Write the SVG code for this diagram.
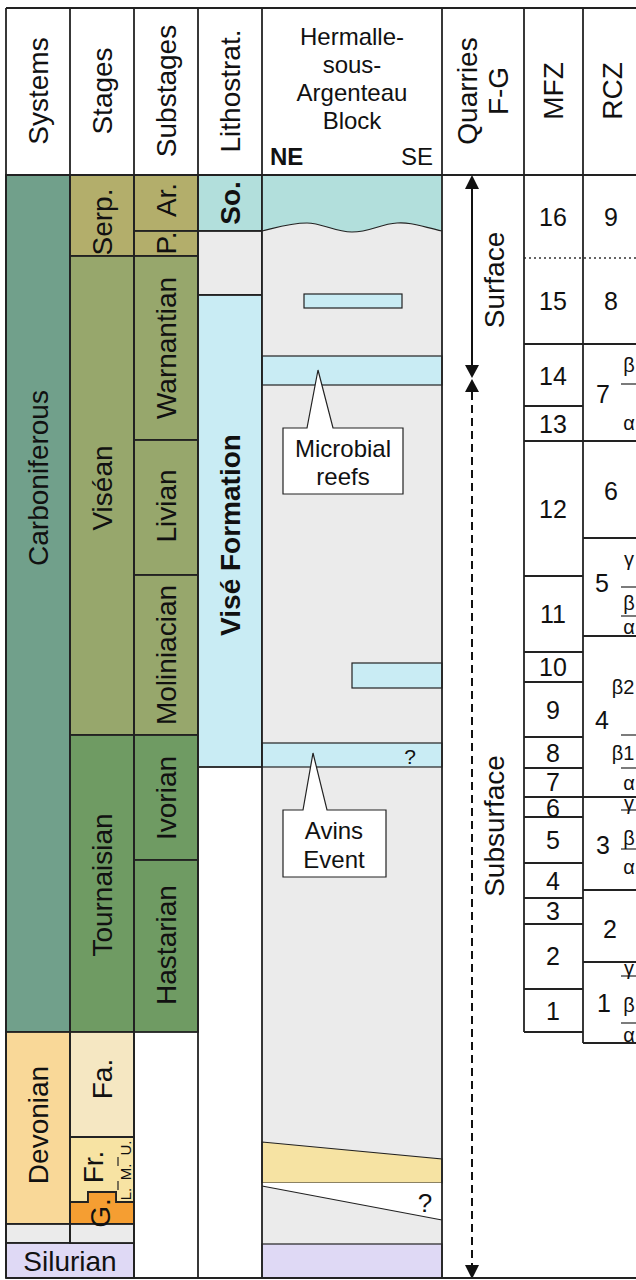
<svg xmlns="http://www.w3.org/2000/svg" width="636" height="1280" viewBox="0 0 636 1280">
<defs>
<style>
text{font-family:"Liberation Sans",Arial,sans-serif;fill:#111}
.c{stroke:#222;stroke-width:1.8}
.h{font-size:28px;text-anchor:middle;dominant-baseline:central}
.l{font-size:28px;text-anchor:middle;dominant-baseline:central}
.b{font-weight:bold}
.n{font-size:25px;text-anchor:middle;dominant-baseline:central}
.g{font-size:20px;text-anchor:middle;dominant-baseline:central}
.s{font-size:15px;text-anchor:middle;dominant-baseline:central}
.ln{stroke:#222;stroke-width:1.8;fill:none}
.tl{stroke:#222;stroke-width:1.2}
</style>
</defs>
<rect width="636" height="1280" fill="#fff"/>

<g id="header">
<text class="h" transform="translate(38,91) rotate(-90)">Systems</text>
<text class="h" transform="translate(102,91) rotate(-90)">Stages</text>
<text class="h" transform="translate(166,91) rotate(-90)">Substages</text>
<text class="h" transform="translate(230,91) rotate(-90)">Lithostrat.</text>
<text style="font-size:24px;text-anchor:middle"><tspan x="352" y="45">Hermalle-</tspan><tspan x="352" y="73">sous-</tspan><tspan x="352" y="101">Argenteau</tspan><tspan x="352" y="129">Block</tspan></text>
<text class="b" x="270" y="165" style="font-size:24px">NE</text>
<text x="433" y="165" style="font-size:24px;text-anchor:end">SE</text>
<text class="h" transform="translate(483,91) rotate(-90)"><tspan x="0" y="-16">Quarries</tspan><tspan x="0" y="15">F-G</tspan></text>
<text class="h" transform="translate(553,91) rotate(-90)">MFZ</text>
<text class="h" transform="translate(612,91) rotate(-90)">RCZ</text>
</g>

<g id="systems">
<rect class="c" x="6" y="175" width="64" height="857" fill="#71a08b"/>
<rect class="c" x="6" y="1032" width="64" height="192" fill="#f9d898"/>
<rect class="c" x="6" y="1224" width="64" height="19" fill="#ebebeb"/>
<rect class="c" x="6" y="1243" width="128" height="35" fill="#dfd9f5"/>
<text class="l" transform="translate(38,478) rotate(-90)">Carboniferous</text>
<text class="l" transform="translate(38,1125) rotate(-90)">Devonian</text>
<text x="70" y="1271" style="font-size:28px;text-anchor:middle">Silurian</text>
</g>

<g id="stages">
<rect class="c" x="70" y="175" width="64" height="81" fill="#b3ae6b"/>
<rect class="c" x="70" y="256" width="64" height="479" fill="#97a76c"/>
<rect class="c" x="70" y="735" width="64" height="297" fill="#6f9b63"/>
<rect class="c" x="70" y="1032" width="64" height="105" fill="#f5e7c2"/>
<polygon class="c" points="70,1137 134,1137 134,1202 116,1202 116,1192 88,1192 88,1202 70,1202" fill="#f7e3a3"/>
<polygon class="c" points="70,1202 88,1202 88,1192 116,1192 116,1202 134,1202 134,1224 70,1224" fill="#f59e32"/>
<rect class="c" x="70" y="1224" width="64" height="19" fill="#ebebeb"/>
<text class="l" transform="translate(102,222) rotate(-90)">Serp.</text>
<text class="l" transform="translate(102,488) rotate(-90)">Viséan</text>
<text class="l" transform="translate(102,885) rotate(-90)">Tournaisian</text>
<text class="l" transform="translate(102,1079) rotate(-90)">Fa.</text>
<text class="l" transform="translate(93,1167) rotate(-90)">Fr.</text>
<text class="l" transform="translate(100,1213) rotate(-90)">G.</text>
<text class="s" transform="translate(125,1148) rotate(-90)">U.</text>
<text class="s" transform="translate(125,1172) rotate(-90)">M.</text>
<text class="s" transform="translate(125,1194) rotate(-90)">L.</text>
<line class="tl" x1="118" y1="1157" x2="118" y2="1166"/>
<line class="tl" x1="118" y1="1181" x2="118" y2="1190"/>
</g>

<g id="substages">
<rect class="c" x="134" y="175" width="64" height="56" fill="#b3ae6b"/>
<rect class="c" x="134" y="231" width="64" height="25" fill="#b3ae6b"/>
<rect class="c" x="134" y="256" width="64" height="184" fill="#97a76c"/>
<rect class="c" x="134" y="440" width="64" height="135" fill="#97a76c"/>
<rect class="c" x="134" y="575" width="64" height="160" fill="#97a76c"/>
<rect class="c" x="134" y="735" width="64" height="125" fill="#6f9b63"/>
<rect class="c" x="134" y="860" width="64" height="172" fill="#6f9b63"/>
<text class="l" transform="translate(166,200) rotate(-90)">Ar.</text>
<text class="l" transform="translate(166,243) rotate(-90)">P.</text>
<text class="l" transform="translate(166,348) rotate(-90)">Warnantian</text>
<text class="l" transform="translate(166,506) rotate(-90)">Livian</text>
<text class="l" transform="translate(166,655) rotate(-90)">Moliniacian</text>
<text class="l" transform="translate(166,798) rotate(-90)">Ivorian</text>
<text class="l" transform="translate(166,945) rotate(-90)">Hastarian</text>
</g>

<g id="lithostrat">
<rect class="c" x="198" y="175" width="64" height="56" fill="#b2dfdc"/>
<rect class="c" x="198" y="231" width="64" height="64" fill="#ebebeb"/>
<rect class="c" x="198" y="295" width="64" height="472" fill="#c9ecf4"/>
<text class="l b" transform="translate(230,203) rotate(-90)">So.</text>
<text class="l b" transform="translate(230,535) rotate(-90)">Visé Formation</text>
</g>

<g id="hermalle">
<rect x="262" y="175" width="180" height="1069" fill="#ebebeb"/>
<path d="M262,175 H442 V231 C420,226 410,222 397,223 C380,224 370,232 352,232 C335,232 322,223 307,223 C290,223 275,228 262,231 Z" fill="#b2dfdc"/>
<path class="tl" d="M262,231 C275,228 290,223 307,223 C322,223 335,232 352,232 C370,232 380,224 397,223 C410,222 420,226 442,231" fill="none"/>
<rect class="tl" x="304" y="294" width="98" height="14" fill="#c9ecf4"/>
<rect class="tl" x="262" y="356" width="180" height="29" fill="#c9ecf4"/>
<rect class="tl" x="352" y="663" width="90" height="25" fill="#c9ecf4"/>
<rect class="tl" x="262" y="743" width="180" height="24" fill="#c9ecf4"/>
<text x="410" y="764" style="font-size:21px;text-anchor:middle">?</text>
<polygon class="tl" points="262,1142 442,1159 442,1183 262,1183" fill="#f6e3a3"/>
<polygon points="262,1183 442,1183 442,1220 262,1186" fill="#fff"/>
<line class="tl" x1="262" y1="1186" x2="442" y2="1220"/>
<text x="425" y="1212" style="font-size:26px;text-anchor:middle">?</text>
<rect class="tl" x="262" y="1244" width="180" height="34" fill="#dfd9f5"/>
</g>

<g id="callout-microbial">
<polygon class="tl" points="283,428 307,428 318,370 333,428 403,428 403,494 283,494" fill="#fff"/>
<text style="font-size:24px;text-anchor:middle"><tspan x="343" y="457">Microbial</tspan><tspan x="343" y="485">reefs</tspan></text>
</g>

<g id="callout-avins">
<polygon class="tl" points="283,810 303,810 313,753 327,810 386,810 386,877 283,877" fill="#fff"/>
<text style="font-size:24px;text-anchor:middle"><tspan x="334" y="839">Avins</tspan><tspan x="334" y="868">Event</tspan></text>
</g>

<g id="quarries">
<line x1="472" y1="188" x2="472" y2="366" stroke="#111" stroke-width="2"/>
<polygon points="472,175 465,189 479,189" fill="#111"/>
<polygon points="472,378 465,365 479,365" fill="#111"/>
<polygon points="472,379 465,392 479,392" fill="#111"/>
<line x1="472" y1="392" x2="472" y2="1266" stroke="#111" stroke-width="2" stroke-dasharray="8,5"/>
<polygon points="472,1279 465,1265 479,1265" fill="#111"/>
<text class="l" transform="translate(494,280) rotate(-90)">Surface</text>
<text class="l" transform="translate(494,826) rotate(-90)">Subsurface</text>
</g>

<g id="mfz">
<line x1="524" y1="258" x2="636" y2="258" stroke="#333" stroke-width="1.5" stroke-dasharray="2,3"/>
<g class="ln">
<line x1="524" y1="344" x2="636" y2="344"/>
<line x1="524" y1="406" x2="583" y2="406"/>
<line x1="524" y1="441" x2="636" y2="441"/>
<line x1="524" y1="576" x2="583" y2="576"/>
<line x1="524" y1="652" x2="583" y2="652"/>
<line x1="524" y1="682" x2="583" y2="682"/>
<line x1="524" y1="737" x2="583" y2="737"/>
<line x1="524" y1="768" x2="583" y2="768"/>
<line x1="524" y1="797" x2="636" y2="797"/>
<line x1="524" y1="817" x2="583" y2="817"/>
<line x1="524" y1="863" x2="583" y2="863"/>
<line x1="524" y1="898" x2="583" y2="898"/>
<line x1="524" y1="924" x2="583" y2="924"/>
<line x1="524" y1="989" x2="583" y2="989"/>
<line x1="524" y1="1032" x2="583" y2="1032"/>
</g>
<text class="n" x="553" y="217">16</text>
<text class="n" x="553" y="301">15</text>
<text class="n" x="553" y="376">14</text>
<text class="n" x="553" y="424">13</text>
<text class="n" x="553" y="509">12</text>
<text class="n" x="553" y="614">11</text>
<text class="n" x="553" y="667">10</text>
<text class="n" x="553" y="710">9</text>
<text class="n" x="553" y="753">8</text>
<text class="n" x="553" y="782">7</text>
<text class="n" x="553" y="808">6</text>
<text class="n" x="553" y="840">5</text>
<text class="n" x="553" y="881">4</text>
<text class="n" x="553" y="911">3</text>
<text class="n" x="553" y="956">2</text>
<text class="n" x="553" y="1011">1</text>
</g>

<g id="rcz">
<g class="ln">
<line x1="583" y1="538" x2="636" y2="538"/>
<line x1="583" y1="636" x2="636" y2="636"/>
<line x1="583" y1="890" x2="636" y2="890"/>
<line x1="583" y1="962" x2="636" y2="962"/>
<line x1="583" y1="1043" x2="636" y2="1043"/>
</g>
<g class="tl">
<line x1="621" y1="384" x2="636" y2="384"/>
<line x1="621" y1="587" x2="636" y2="587"/>
<line x1="621" y1="616" x2="636" y2="616"/>
<line x1="621" y1="735" x2="636" y2="735"/>
<line x1="621" y1="768" x2="636" y2="768"/>
<line x1="621" y1="810" x2="636" y2="810"/>
<line x1="621" y1="849" x2="636" y2="849"/>
<line x1="621" y1="976" x2="636" y2="976"/>
<line x1="621" y1="1023" x2="636" y2="1023"/>
</g>
<text class="n" x="611" y="217">9</text>
<text class="n" x="611" y="301">8</text>
<text class="n" x="603" y="394">7</text>
<text class="n" x="611" y="491">6</text>
<text class="n" x="602" y="583">5</text>
<text class="n" x="602" y="720">4</text>
<text class="n" x="603" y="845">3</text>
<text class="n" x="610" y="929">2</text>
<text class="n" x="604" y="1003">1</text>
<text class="g" x="629" y="365">β</text>
<text class="g" x="629" y="423">α</text>
<text class="g" x="629" y="559">γ</text>
<text class="g" x="629" y="603">β</text>
<text class="g" x="629" y="627">α</text>
<text class="g" x="623" y="687">β2</text>
<text class="g" x="623" y="753">β1</text>
<text class="g" x="629" y="783">α</text>
<text class="g" x="629" y="803">γ</text>
<text class="g" x="629" y="838">β</text>
<text class="g" x="629" y="867">α</text>
<text class="g" x="629" y="968">γ</text>
<text class="g" x="629" y="1005">β</text>
<text class="g" x="629" y="1035">α</text>
</g>

<g id="grid" class="ln">
<line x1="6" y1="8" x2="636" y2="8"/>
<line x1="6" y1="175" x2="636" y2="175"/>
<line x1="6" y1="1278" x2="636" y2="1278"/>
<line x1="6" y1="8" x2="6" y2="1278"/>
<line x1="70" y1="8" x2="70" y2="1243"/>
<line x1="134" y1="8" x2="134" y2="1278"/>
<line x1="198" y1="8" x2="198" y2="1278"/>
<line x1="262" y1="8" x2="262" y2="1278"/>
<line x1="442" y1="8" x2="442" y2="1278"/>
<line x1="524" y1="8" x2="524" y2="1032"/>
<line x1="583" y1="8" x2="583" y2="1043"/>
</g>
</svg>
